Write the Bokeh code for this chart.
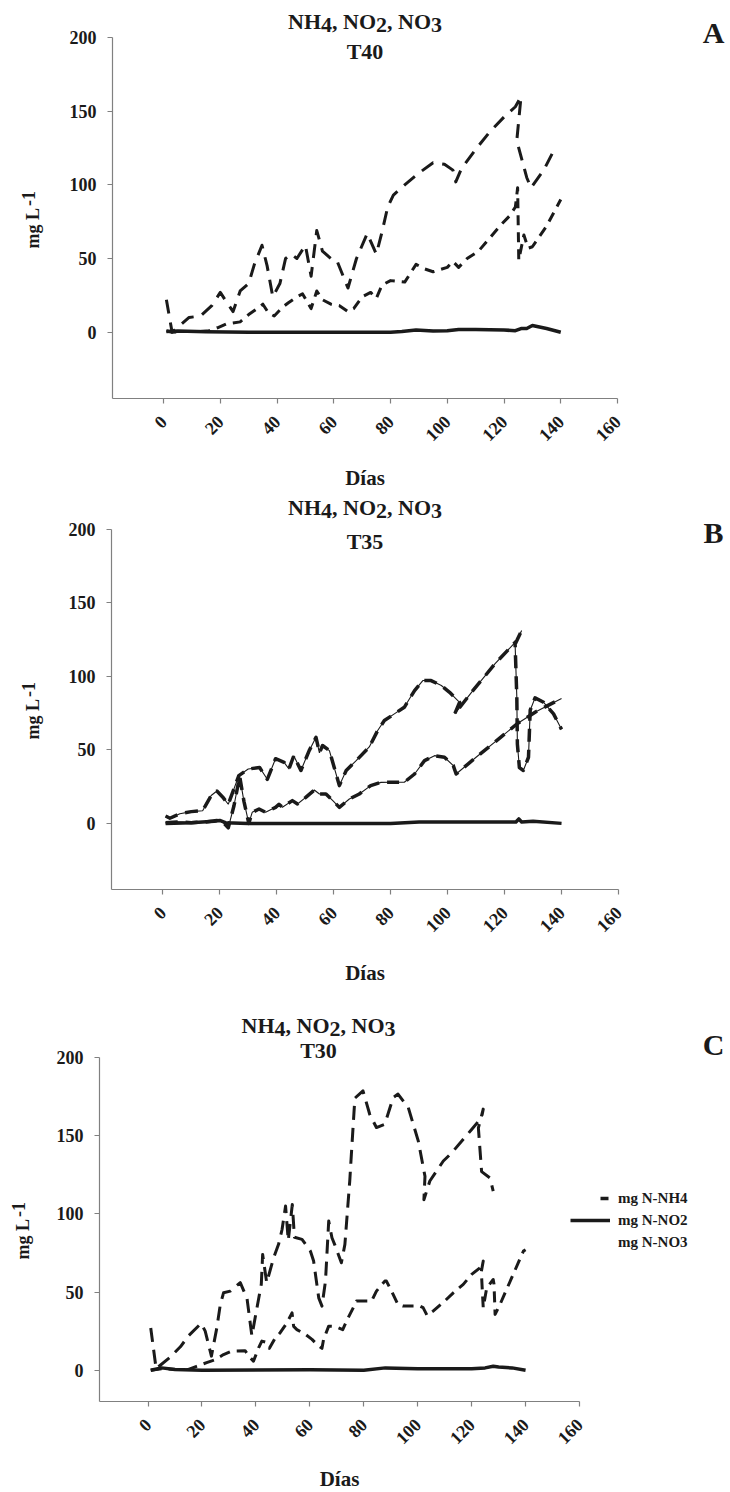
import math
from bokeh.plotting import figure
from bokeh.models import FixedTicker, Label, Legend, LegendItem, Range1d, LinearAxis
from bokeh.layouts import column
from bokeh.embed import file_html
from bokeh.resources import INLINE

# ---------------- data ----------------
x_ticks = [0, 20, 40, 60, 80, 100, 120, 140, 160]
y_ticks = [0, 50, 100, 150, 200]
legend_labels = ["mg N-NH4", "mg N-NO2", "mg N-NO3"]
panel_letters = ["A", "B", "C"]
panel_subtitles = ["T40", "T35", "T30"]

# Panel A (T40)
a_nh4_day = [1, 3, 9, 13, 17, 20, 22, 24.5, 27, 30, 32, 34.7, 36.5, 38.5, 41, 43, 45, 47, 50, 52,
             54, 56, 59, 61, 65, 68, 71.8, 75, 77, 79, 81, 85, 90, 95, 99, 102, 103, 105, 110, 115,
             120, 124, 126, 124.5, 128, 129.5, 134, 138]
a_nh4_val = [22, 0, 10, 11, 18, 27, 21, 14, 28, 33, 46, 59, 45, 24, 33, 50, 53, 50, 59, 38,
             69, 55, 50, 49, 30, 50, 67, 53, 68, 85, 93, 100, 108, 115, 114, 110, 102, 111, 124, 136,
             146, 153, 160, 130, 105, 98, 110, 125]
a_no3_day = [1, 3, 8, 13, 16, 19, 22, 27, 30, 33, 35, 37, 39, 42, 44, 47, 49, 52, 54, 56,
             59, 62, 65, 67, 70, 73, 75, 77, 80, 85, 89, 92, 95, 100, 102, 104, 107, 111, 115, 119,
             122, 124, 124.8, 125.2, 127, 128.5, 130, 135, 140]
a_no3_val = [1, 0, 0.5, 0.5, 1, 3, 5.5, 7, 12, 16, 19, 13, 11, 17, 20, 24, 26, 16, 28, 22,
             19, 18, 14, 16, 24, 27, 23, 32, 35, 34, 46, 43, 41, 44, 48, 44, 50, 55, 64, 73,
             79, 85, 98, 49, 66, 57, 58, 72, 90]
a_no2_day = [1, 5, 15, 30, 50, 70, 80, 84, 89, 95, 100, 104, 110, 120, 124, 126, 128, 130, 135, 140]
a_no2_val = [0.5, 0.8, 0.3, 0, 0, 0, 0, 0.5, 1.5, 0.8, 1, 1.8, 1.8, 1.5, 1, 2.5, 2.5, 4.5, 2.5, 0]

# Panel B (T35)
b_nh4_day = [1, 2.5, 6, 10, 14, 17, 19, 21, 23, 26.7, 30, 34, 36.7, 39.6, 42.6, 44.3, 46, 48.5, 51.4, 53.8,
             55, 56.1, 58.5, 60.2, 62, 64.4, 67.9, 72.5, 75.4, 77.8, 81.3, 84.8, 88.4, 91.3, 94.2, 97.8,
             100.7, 104.2, 102.5, 108.4, 116.6, 124.3, 126, 123.7, 124.3, 124.5, 125.2, 126.6, 128.4, 129,
             130.7, 133.7, 137.2, 140]
b_nh4_val = [5, 3.5, 6.5, 8, 8.6, 19, 22, 18, 13, 32.5, 37, 38, 30, 44, 41.5, 37, 46, 36, 49.5, 58.6,
             48, 53, 49.5, 38, 25.7, 36, 42.7, 52, 63, 70, 74.5, 79, 90.4, 97.2, 97.2, 93.8,
             89.2, 82.4, 74.5, 89.2, 108.5, 124.4, 131.2, 122, 86, 54, 38, 36, 45, 77,
             85.4, 82.4, 74.5, 64]
b_no3_day = [1, 5, 10, 15, 19, 21, 23, 25, 27, 28.5, 30.2, 31.4, 33.8, 36.1, 39.6, 40.8, 42, 45.5, 47.3, 50.2,
             53.2, 55, 57.3, 59.7, 62, 65.5, 69, 73, 76.6, 80, 84.8, 88.4, 91.9, 95.4, 98.9, 102, 103, 110,
             117, 124.4, 131, 140]
b_no3_val = [0.5, 1, 0.5, 1, 2, 1, -3, 12, 32, 15, 0, 7.5, 9.8, 7.5, 10.9, 13, 11, 15.5, 13.2, 17.7,
             22.7, 20, 20, 15.5, 10.9, 16.6, 20, 25.7, 27.9, 28, 28, 33.6, 42.7, 46.1, 45, 39.3, 33.6, 45,
             56, 67.8, 76, 85]
b_no2_day = [1, 10, 18, 20, 22, 30, 60, 80, 90, 100, 110, 120, 124, 125, 126, 130, 140]
b_no2_val = [0, 0.5, 1.5, 2, 0.5, 0, 0, 0, 1, 1, 1, 1, 1, 3, 1, 1.5, 0]

# Panel C (T30)
c_nh4_day = [1, 3, 8, 12, 15, 19.7, 21.2, 23.5, 25.5, 26.8, 28, 30.5, 34.2, 36.7, 38.5, 40.4, 42, 42.5, 44, 46.6,
             48.4, 49.7, 51, 52, 53.5, 54.3, 57.1, 60.2, 61.4, 63.3, 64.5, 65.8, 67, 68.2, 69.3, 71.7, 73, 74.8,
             75.4, 76.7, 79.7, 82.2, 84.7, 87.8, 90.9, 92.7, 96.5, 100.2, 102.7, 102.3, 104.5, 109.5, 112.6,
             116.9, 120, 123.7, 124.3, 122.5, 123.7, 126.8, 128]
c_nh4_val = [27, 1, 8, 15, 22, 30, 25, 9, 27, 42, 49.5, 50.6, 56, 46, 22, 40, 55, 74, 56, 72,
             80.5, 90, 105, 83, 106, 85, 83.7, 76.2, 69.8, 46.3, 41, 57, 95.4, 84.7, 80, 68.7, 80.5, 121,
             138, 174, 178.7, 163.7, 155.2, 157.3, 174.4, 176.6, 168, 146.7, 124, 109, 121, 133.8, 139,
             147.7, 154, 161.6, 167, 155, 127, 123, 114.6]
c_no3_day = [1, 5, 10, 15, 18, 22, 25, 28, 31, 36, 37.9, 39.1, 41, 42.2, 43.5, 45, 47.2, 49, 51.5, 53.4,
             54, 55.2, 58.3, 60.8, 63.3, 64.5, 65.1, 67, 69.5, 72.2, 74.2, 76.7, 77.3, 82.9, 84.7, 87.8, 88.4,
             90.3, 92.7, 94.6, 100.8, 102, 103.5, 105.7, 110, 113.2, 116.9, 120, 123.1, 124.3, 123.6, 124.3,
             125.6, 128, 128.3, 128.7, 130.5, 139.2, 140]
c_no3_val = [0, 1, 0.5, 0.5, 2.5, 5, 6.8, 10, 12.2, 12.5, 8, 5.8, 14.3, 18.6, 18, 14, 20.7, 24, 30.3, 36.7,
             28, 26, 23, 19.7, 15.4, 14, 19.7, 28.2, 28, 26, 33.5, 42, 44.2, 44.2, 50.6, 57, 57,
             50.6, 42, 41, 41, 40, 35, 37.8, 44.2, 49.5, 54.9, 61.3, 65.5, 69.8, 63, 40,
             52.7, 58, 55, 35.7, 42, 76.2, 77]
c_no2_day = [1, 5, 10, 20, 60, 80, 88, 100, 120, 125, 128, 130, 135, 140]
c_no2_val = [0, 1.5, 0.5, 0, 0.3, 0, 1.5, 1, 1, 1.5, 2.5, 2, 1.5, 0]

# ---------------- style / layout ----------------
FONT = "Liberation Serif"
INK = "#1a1a1a"
AXIS = "#808080"
W = 730
XMIN, XMAX = -18, 160
YMAX = 200
BASE_FIX = 11  # renderer places alphabetic baselines this much lower than asked

# panel geometry in page pixels: figure top, figure height, axes box left/right/top/bottom, y min
specs = [
    dict(top=0, h=490, L=112, R=617, FT=37, FB=398, y0=-45,
         tcx=364.5, tb1=31.7, tb2=61.7, lb=43.3, yl_x=43, yl_c=218, dx=364.5, db=488),
    dict(top=490, h=495, L=111, R=618, FT=529, FB=889, y0=-45,
         tcx=364.5, tb1=518.3, tb2=551.7, lb=543.3, yl_x=43, yl_c=709, dx=364.5, db=983),
    dict(top=985, h=507, L=99, R=579, FT=1057, FB=1401, y0=-20,
         tcx=318, tb1=1036, tb2=1060.7, lb=1055, yl_x=33, yl_c=1229, dx=339, db=1489),
]

series = [
    (a_nh4_day, a_nh4_val, a_no3_day, a_no3_val, a_no2_day, a_no2_val),
    (b_nh4_day, b_nh4_val, b_no3_day, b_no3_val, b_no2_day, b_no2_val),
    (c_nh4_day, c_nh4_val, c_no3_day, c_no3_val, c_no2_day, c_no2_val),
]


def ranges(s):
    xs = (s["R"] - s["L"]) / (XMAX - XMIN)
    ys = (s["FB"] - s["FT"]) / (YMAX - s["y0"])
    bottom = s["top"] + s["h"]
    xr = (XMIN - s["L"] / xs, XMIN + (W - s["L"]) / xs)
    yr = (s["y0"] - (bottom - s["FB"]) / ys, YMAX + (s["FT"] - s["top"]) / ys)
    return xr, yr


def to_data(s, gx, gy):
    (x0, x1), (y0, y1) = ranges(s)
    bottom = s["top"] + s["h"]
    return x0 + gx / W * (x1 - x0), y0 + (bottom - gy) / s["h"] * (y1 - y0)


def add_text(p, s, gx, gy, text, size, align="left", angle=0.0):
    if angle:
        gx -= BASE_FIX
    else:
        gy -= BASE_FIX
    x, y = to_data(s, gx, gy)
    p.add_layout(Label(x=x, y=y, text=text, text_font=FONT, text_font_style="bold",
                       text_font_size=f"{size}px", text_color=INK, text_align=align,
                       text_baseline="alphabetic", angle=angle))


def style_axis(ax):
    ax.axis_line_color = AXIS
    ax.axis_line_width = 1.2
    ax.major_tick_line_color = AXIS
    ax.major_tick_line_width = 1.2
    ax.major_tick_in = 0
    ax.major_tick_out = 5
    ax.minor_tick_line_color = None
    ax.major_label_text_font = FONT
    ax.major_label_text_font_style = "bold"
    ax.major_label_text_font_size = "18px"
    ax.major_label_text_color = INK


figs = []
for i, s in enumerate(specs):
    nh4_d, nh4_v, no3_d, no3_v, no2_d, no2_v = series[i]
    xr, yr = ranges(s)
    p = figure(width=W, height=s["h"], x_range=Range1d(*xr), y_range=Range1d(*yr),
               output_backend="svg", toolbar_location=None, title=None,
               x_axis_location=None, y_axis_location=None,
               min_border=0, min_border_left=0, min_border_right=0,
               min_border_top=0, min_border_bottom=0,
               outline_line_color=None, background_fill_color="white", border_fill_color="white")
    p.grid.visible = False

    xax = LinearAxis(fixed_location=s["y0"], bounds=(XMIN, XMAX),
                     ticker=FixedTicker(ticks=x_ticks))
    yax = LinearAxis(fixed_location=XMIN, bounds=(s["y0"], YMAX),
                     ticker=FixedTicker(ticks=y_ticks))
    style_axis(xax)
    style_axis(yax)
    xax.major_label_orientation = math.pi / 4
    xax.major_label_standoff = 15
    yax.major_label_standoff = 11
    p.add_layout(xax, "below")
    p.add_layout(yax, "left")

    if i == 0:
        d1, d2 = "14 9", "10 7"
    elif i == 1:
        d1, d2 = "13 8", "12 8"
    else:
        d1, d2 = "14 8", "11 7"

    if i == 1:
        p.line(nh4_d, nh4_v, line_color=INK, line_width=1.1)
        p.line(no3_d, no3_v, line_color=INK, line_width=1.1)
        wdash = 3.5
    else:
        wdash = 3
    p.line(no2_d, no2_v, line_color=INK, line_width=3.5, line_join="round")
    p.line(nh4_d, nh4_v, line_color=INK, line_width=wdash, line_dash=d1,
           line_cap="butt", line_join="round")
    p.line(no3_d, no3_v, line_color=INK, line_width=wdash, line_dash=d2,
           line_cap="butt", line_join="round")

    # title "NH4, NO2, NO3" with lowered digits, then subtitle
    size_t = 22
    pieces = [("NH", 1.5, 0), ("4", 0.5, 3.5), (", NO", 2.0, 0), ("2", 0.5, 3.5),
              (", NO", 2.0, 0), ("3", 0.5, 3.5)]
    total = sum(w for _, w, _ in pieces) * size_t
    gx = s["tcx"] - total / 2
    for txt, w, drop in pieces:
        add_text(p, s, gx, s["tb1"] + drop, txt, size_t)
        gx += w * size_t
    add_text(p, s, s["tcx"], s["tb2"], panel_subtitles[i], size_t, align="center")

    # panel letter
    add_text(p, s, 713, s["lb"], panel_letters[i], 30, align="center")

    # y axis label "mg L" with raised "-1", reading bottom to top
    start = s["yl_c"] + 30
    add_text(p, s, s["yl_x"], start, "mg L", 18, angle=math.pi / 2)
    add_text(p, s, s["yl_x"] - 4, start - 42.5, "-1", 18, angle=math.pi / 2)

    # x axis label
    add_text(p, s, s["dx"], s["db"], "Días", 21, align="center")

    if i == 2:
        nan = float("nan")
        r_nh4 = p.line([nan], [nan], line_color=INK, line_width=3.5, line_dash="0 30 8 40",
                       line_cap="butt")
        r_no2 = p.line([nan], [nan], line_color=INK, line_width=3.5)
        r_no3 = p.line([nan], [nan], line_color=INK, line_width=3.5, line_alpha=0)
        bottom = s["top"] + s["h"]
        leg = Legend(items=[LegendItem(label=legend_labels[0], renderers=[r_nh4]),
                            LegendItem(label=legend_labels[1], renderers=[r_no2]),
                            LegendItem(label=legend_labels[2], renderers=[r_no3])],
                     location=(570, bottom - 1252),
                     glyph_width=40, glyph_height=20, label_height=20, spacing=2,
                     label_standoff=8, padding=0, margin=0,
                     border_line_alpha=0, background_fill_alpha=0,
                     label_text_font=FONT, label_text_font_style="bold",
                     label_text_font_size="15px", label_text_color=INK)
        p.add_layout(leg, "center")

    figs.append(p)

layout = column(*figs, spacing=0)
open("out.html", "w").write(file_html(layout, INLINE))
